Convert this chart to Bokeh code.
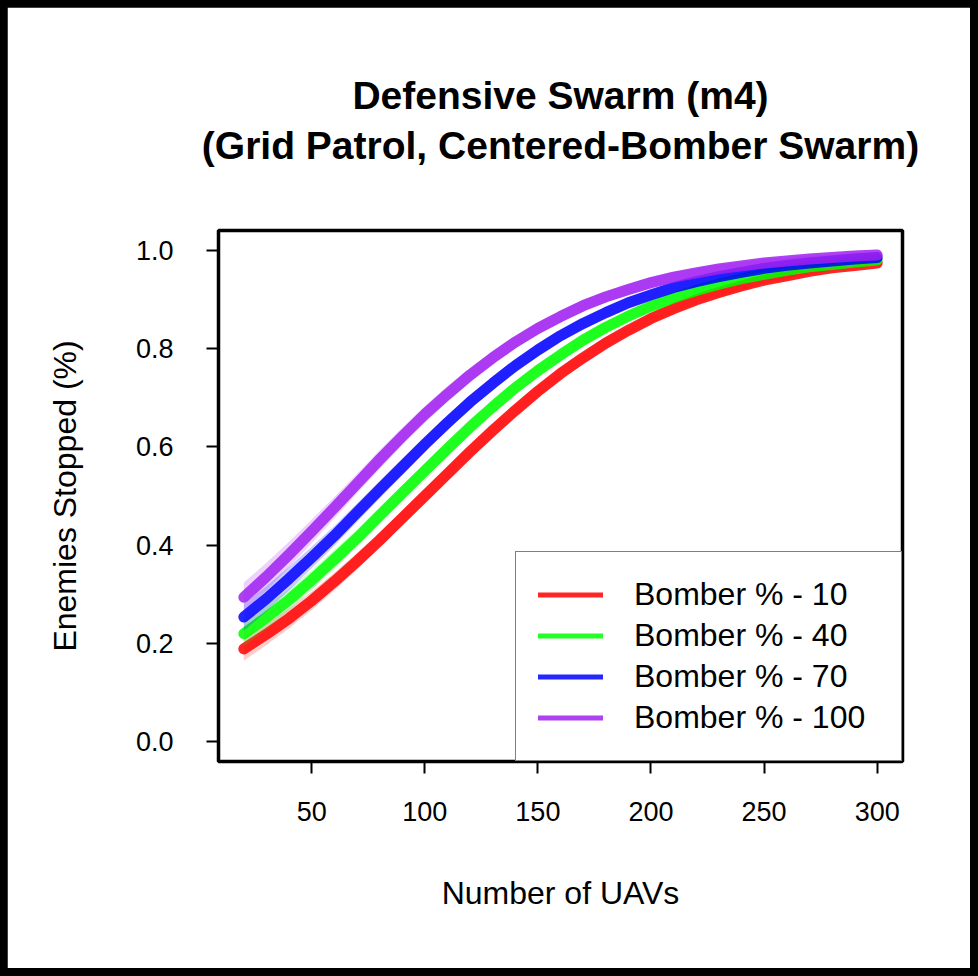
from bokeh.plotting import figure
from bokeh.layouts import column
from bokeh.models import (Range1d, FixedTicker, PrintfTickFormatter, Legend,
                          LegendItem, Title, ColumnDataSource)
from bokeh.embed import file_html
from bokeh.resources import INLINE

# ---------------- data ----------------
uavs = [20, 30, 40, 50, 60, 70, 80, 90, 100, 110, 120, 130, 140, 150, 160,
        170, 180, 190, 200, 210, 220, 230, 240, 250, 260, 270, 280, 290, 300]

bomber_10 = [0.189, 0.219, 0.251, 0.287, 0.326, 0.367, 0.410, 0.455, 0.500, 0.545,
             0.590, 0.633, 0.674, 0.713, 0.749, 0.781, 0.811, 0.837, 0.861, 0.881,
             0.899, 0.914, 0.927, 0.939, 0.948, 0.957, 0.964, 0.969, 0.974]
bomber_40 = [0.220, 0.253, 0.289, 0.329, 0.371, 0.414, 0.460, 0.506, 0.551, 0.596,
             0.640, 0.681, 0.720, 0.755, 0.787, 0.817, 0.843, 0.866, 0.886, 0.903,
             0.918, 0.931, 0.942, 0.951, 0.959, 0.966, 0.971, 0.976, 0.980]
bomber_70 = [0.254, 0.291, 0.332, 0.375, 0.419, 0.466, 0.513, 0.559, 0.605, 0.649,
             0.691, 0.729, 0.765, 0.797, 0.826, 0.851, 0.873, 0.893, 0.909, 0.924,
             0.936, 0.946, 0.955, 0.963, 0.969, 0.974, 0.978, 0.982, 0.985]
bomber_100 = [0.294, 0.336, 0.381, 0.428, 0.476, 0.525, 0.574, 0.621, 0.666, 0.707,
              0.746, 0.781, 0.813, 0.841, 0.865, 0.887, 0.905, 0.920, 0.934, 0.945,
              0.954, 0.962, 0.968, 0.974, 0.978, 0.982, 0.985, 0.988, 0.990]

# half-width of the shaded confidence band around each curve
band_10 = [0.024, 0.022, 0.020, 0.019, 0.018, 0.017, 0.016, 0.015, 0.014, 0.014,
           0.013, 0.013, 0.012, 0.012, 0.012, 0.011, 0.011, 0.010, 0.010, 0.009,
           0.009, 0.008, 0.008, 0.007, 0.007, 0.006, 0.006, 0.005, 0.005]
band_40 = [0.026, 0.024, 0.022, 0.020, 0.019, 0.018, 0.017, 0.016, 0.015, 0.014,
           0.014, 0.013, 0.013, 0.012, 0.012, 0.011, 0.011, 0.010, 0.010, 0.009,
           0.009, 0.008, 0.008, 0.007, 0.007, 0.006, 0.006, 0.005, 0.005]
band_70 = [0.028, 0.026, 0.024, 0.022, 0.020, 0.019, 0.018, 0.017, 0.016, 0.015,
           0.014, 0.013, 0.013, 0.012, 0.012, 0.011, 0.011, 0.010, 0.010, 0.009,
           0.009, 0.008, 0.008, 0.007, 0.007, 0.006, 0.006, 0.005, 0.005]
band_100 = [0.030, 0.028, 0.026, 0.024, 0.022, 0.020, 0.019, 0.018, 0.017, 0.016,
            0.015, 0.014, 0.013, 0.013, 0.012, 0.012, 0.011, 0.011, 0.010, 0.010,
            0.009, 0.009, 0.008, 0.008, 0.007, 0.007, 0.006, 0.006, 0.005]

series_labels = ["Bomber % - 10", "Bomber % - 40", "Bomber % - 70", "Bomber % - 100"]
series_values = [bomber_10, bomber_40, bomber_70, bomber_100]
series_bands = [band_10, band_40, band_70, band_100]
series_colors = ["#FF0000", "#00FF00", "#0000FF", "#A020F0"]

x_ticks = [50, 100, 150, 200, 250, 300]
y_ticks = [0.0, 0.2, 0.4, 0.6, 0.8, 1.0]

title_line1 = "Defensive Swarm (m4)"
title_line2 = "(Grid Patrol, Centered-Bomber Swarm)"
x_label = "Number of UAVs"
y_label = "Enemies Stopped (%)"

FONT = "Liberation Sans"

# ---------------- figure ----------------
p = figure(width=963, height=961, output_backend="svg", toolbar_location=None,
           x_range=Range1d(8.8, 311.2), y_range=Range1d(-0.04, 1.04),
           min_border_left=211, min_border_right=68, min_border_top=223,
           min_border_bottom=207, title=None)
p.margin = (7, 8, 8, 7)
p.background_fill_color = "white"
p.border_fill_color = "white"
p.outline_line_color = "black"
p.outline_line_width = 3.5
p.xgrid.grid_line_color = None
p.ygrid.grid_line_color = None

for ax in (p.xaxis[0], p.yaxis[0]):
    ax.axis_line_color = None
    ax.major_tick_line_color = "black"
    ax.major_tick_line_width = 2
    ax.major_tick_in = 0
    ax.major_tick_out = 12
    ax.minor_tick_line_color = None
    ax.major_label_text_font = FONT
    ax.major_label_text_font_size = "27px"
    ax.major_label_text_color = "black"
    ax.axis_label_text_font = FONT
    ax.axis_label_text_font_size = "32px"
    ax.axis_label_text_font_style = "normal"
    ax.axis_label_text_color = "black"

p.xaxis.ticker = FixedTicker(ticks=x_ticks)
p.yaxis.ticker = FixedTicker(ticks=y_ticks)
p.yaxis.formatter = PrintfTickFormatter(format="%.1f")
p.yaxis.major_label_orientation = "horizontal"
p.xaxis.major_label_standoff = 28
p.yaxis.major_label_standoff = 33
p.xaxis.axis_label = x_label
p.yaxis.axis_label = y_label
p.xaxis.axis_label_standoff = 51
p.yaxis.axis_label_standoff = 50

# ---------------- curves ----------------
legend_items = []
for lab, vals, band, col in zip(series_labels, series_values, series_bands, series_colors):
    lower = [v - b for v, b in zip(vals, band)]
    upper = [v + b for v, b in zip(vals, band)]
    src = ColumnDataSource(dict(x=uavs, y=vals, lo=lower, hi=upper))
    p.varea(x="x", y1="lo", y2="hi", source=src, fill_color=col, fill_alpha=0.2)
    p.line(x="x", y="y", source=src, line_color=col, line_alpha=0.85,
           line_width=11, line_cap="round", line_join="round")
    # legend swatch (thinner line), placed outside the visible ranges
    swatch = p.line(x=[-60, -50], y=[-2, -2], line_color=col, line_alpha=0.85,
                    line_width=5, line_cap="round")
    legend_items.append(LegendItem(label=lab, renderers=[swatch]))

legend = Legend(items=legend_items, location="bottom_right", margin=0,
                padding=22, spacing=0, label_height=41, glyph_height=41,
                glyph_width=65, label_standoff=31, label_width=245,
                label_text_font=FONT, label_text_font_size="32px",
                label_text_color="black", border_line_color="black",
                border_line_width=1.5, background_fill_color="white",
                background_fill_alpha=1.0)
p.add_layout(legend)

# ---------------- two-line title (stacked from the frame upwards) ----------------
spacer = Title(text=" ", text_font=FONT, text_font_size="10px", standoff=46)
t2 = Title(text=title_line2, align="center", text_font=FONT, text_font_size="39px",
           text_font_style="bold", text_color="black", standoff=10)
t1 = Title(text=title_line1, align="center", text_font=FONT, text_font_size="39px",
           text_font_style="bold", text_color="black", standoff=0)
p.add_layout(spacer, "above")
p.add_layout(t2, "above")
p.add_layout(t1, "above")

page = column(p, styles={"background-color": "black"})
open("out.html", "w").write(file_html(page, INLINE))
